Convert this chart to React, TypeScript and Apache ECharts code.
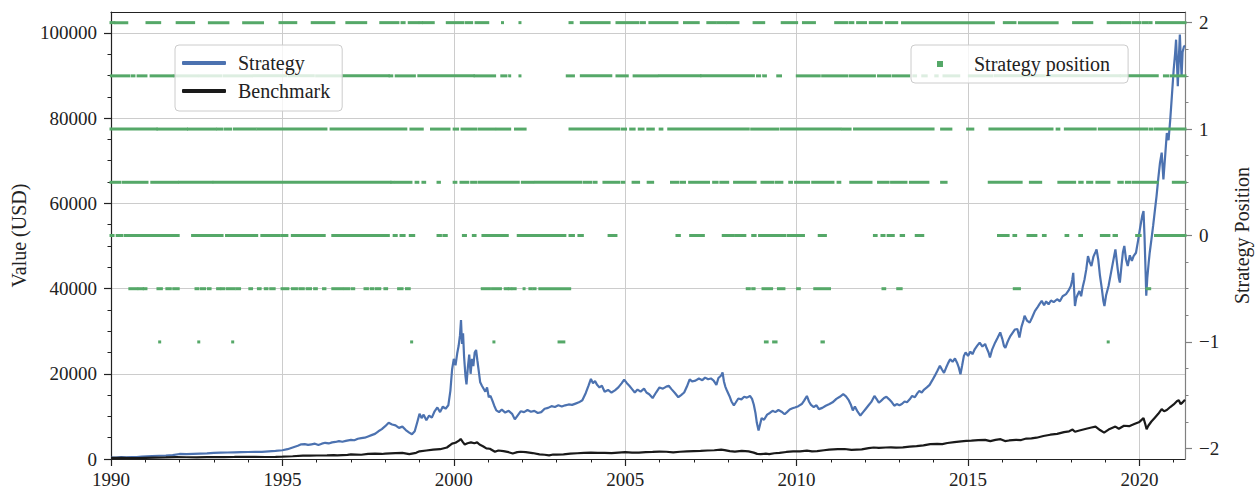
import { useEffect, useRef } from 'react';
import * as echarts from 'echarts';

// Axis extents (decimal years on x, USD on the left, position units on the right)
const X_MIN = 1990;
const X_MAX = 2021.33;
const VALUE_MAX = 104900;
const POS_MIN = -2.1;
const POS_MAX = 2.1;

const yearTicks = [1990, 1995, 2000, 2005, 2010, 2015, 2020];
const yearMinorTicks = [
  1991, 1992, 1993, 1994, 1996, 1997, 1998, 1999, 2001, 2002, 2003, 2004,
  2006, 2007, 2008, 2009, 2011, 2012, 2013, 2014, 2016, 2017, 2018, 2019, 2021,
];
const valueTicks = [0, 20000, 40000, 60000, 80000, 100000];
const valueMinorTicks = [
  5000, 10000, 15000, 25000, 30000, 35000, 45000, 50000, 55000,
  65000, 70000, 75000, 85000, 90000, 95000,
];
const positionTicks = [-2, -1, 0, 1, 2];
const positionMinorTicks = [
  -1.75, -1.5, -1.25, -0.75, -0.5, -0.25, 0.25, 0.5, 0.75, 1.25, 1.5, 1.75,
];

// Portfolio value of the strategy, [year, USD]
const strategyValues: [number, number][] = [
  [1990.0, 300], [1990.15, 340], [1990.3, 420], [1990.45, 380], [1990.6, 450], [1990.75, 430],
  [1990.9, 560], [1991.05, 640], [1991.2, 700], [1991.4, 760], [1991.6, 800], [1991.8, 900],
  [1992.0, 1180], [1992.2, 1150], [1992.4, 1200], [1992.6, 1250], [1992.8, 1300], [1993.0, 1420],
  [1993.2, 1480], [1993.4, 1520], [1993.6, 1560], [1993.8, 1600], [1994.0, 1640], [1994.2, 1680],
  [1994.4, 1650], [1994.6, 1780], [1994.8, 1900], [1995.0, 2050], [1995.15, 2300], [1995.3, 2700],
  [1995.45, 3100], [1995.55, 3450], [1995.65, 3500], [1995.75, 3300], [1995.85, 3450], [1995.95, 3600],
  [1996.05, 3300], [1996.15, 3600], [1996.25, 3800], [1996.35, 3650], [1996.45, 3900], [1996.55, 4000],
  [1996.65, 4200], [1996.75, 4050], [1996.85, 4250], [1997.0, 4500], [1997.1, 4400], [1997.2, 4750],
  [1997.3, 4900], [1997.4, 5000], [1997.5, 5300], [1997.6, 5600], [1997.7, 5900], [1997.8, 6500],
  [1997.9, 7000], [1998.0, 7700], [1998.1, 8500], [1998.2, 8100], [1998.3, 7900], [1998.4, 7300],
  [1998.5, 7600], [1998.6, 6800], [1998.7, 6200], [1998.78, 5800], [1998.86, 6500], [1998.94, 8800],
  [1999.0, 10600], [1999.06, 9600], [1999.12, 10400], [1999.2, 9100], [1999.28, 10200], [1999.36, 9700],
  [1999.44, 11200], [1999.52, 12100], [1999.6, 11000], [1999.68, 12300], [1999.76, 11800], [1999.84, 12600],
  [1999.9, 16000], [1999.95, 21000], [2000.0, 23500], [2000.05, 22000], [2000.1, 24800], [2000.14, 26500],
  [2000.18, 29000], [2000.21, 32600], [2000.24, 27000], [2000.27, 29500], [2000.3, 24000], [2000.34, 19500],
  [2000.37, 17500], [2000.41, 21500], [2000.45, 24500], [2000.49, 20000], [2000.53, 23500], [2000.57, 21800],
  [2000.61, 25000], [2000.65, 25600], [2000.69, 23000], [2000.73, 20500], [2000.77, 18000], [2000.82, 17200],
  [2000.87, 16500], [2000.92, 15800], [2000.97, 16800], [2001.02, 14500], [2001.07, 14800], [2001.12, 13800],
  [2001.18, 12500], [2001.24, 11400], [2001.32, 11000], [2001.4, 11600], [2001.5, 10900], [2001.6, 11300],
  [2001.7, 10600], [2001.78, 9300], [2001.86, 10200], [2001.95, 11200], [2002.05, 11000], [2002.15, 11500],
  [2002.25, 11100], [2002.35, 11300], [2002.45, 10800], [2002.55, 11000], [2002.65, 11800], [2002.75, 12000],
  [2002.85, 12400], [2002.95, 12200], [2003.05, 12600], [2003.15, 12300], [2003.25, 12600], [2003.35, 12800],
  [2003.45, 12700], [2003.55, 13000], [2003.65, 13300], [2003.75, 13800], [2003.85, 15500], [2003.93, 17200],
  [2004.0, 18800], [2004.06, 17800], [2004.12, 18300], [2004.18, 17400], [2004.25, 16800], [2004.32, 17200],
  [2004.4, 15800], [2004.5, 16200], [2004.6, 15600], [2004.7, 16100], [2004.8, 16800], [2004.9, 17800],
  [2004.97, 18600], [2005.05, 17800], [2005.12, 17200], [2005.2, 16400], [2005.28, 15600], [2005.36, 16300],
  [2005.45, 15800], [2005.55, 16500], [2005.62, 15600], [2005.7, 15200], [2005.8, 14300], [2005.9, 15600],
  [2006.0, 16800], [2006.1, 16500], [2006.2, 17000], [2006.27, 17200], [2006.35, 16400], [2006.45, 15500],
  [2006.55, 14500], [2006.63, 15000], [2006.72, 15600], [2006.8, 17000], [2006.88, 18700], [2006.95, 18200],
  [2007.05, 18400], [2007.15, 18900], [2007.25, 18500], [2007.33, 19100], [2007.42, 18700], [2007.5, 18900],
  [2007.58, 18400], [2007.66, 17400], [2007.72, 19000], [2007.8, 19600], [2007.84, 20300], [2007.88, 18200],
  [2007.92, 17000], [2007.97, 16000], [2008.04, 14800], [2008.1, 13500], [2008.17, 12600], [2008.22, 13200],
  [2008.3, 14200], [2008.39, 14000], [2008.47, 14600], [2008.55, 14400], [2008.64, 14800], [2008.7, 14100],
  [2008.75, 12800], [2008.8, 10800], [2008.84, 8500], [2008.89, 6700], [2008.93, 8000], [2008.98, 9600],
  [2009.05, 9200], [2009.14, 10400], [2009.22, 10800], [2009.3, 11300], [2009.38, 11000], [2009.47, 11500],
  [2009.56, 11100], [2009.65, 10500], [2009.72, 11000], [2009.8, 11600], [2009.88, 11900], [2009.95, 12100],
  [2010.05, 12400], [2010.15, 12900], [2010.22, 13700], [2010.3, 14800], [2010.36, 13500], [2010.42, 12700],
  [2010.5, 12200], [2010.58, 12600], [2010.65, 11700], [2010.75, 12000], [2010.85, 12500], [2010.96, 12900],
  [2011.05, 13300], [2011.16, 14100], [2011.26, 14600], [2011.36, 15200], [2011.44, 14700], [2011.52, 13800],
  [2011.58, 12800], [2011.64, 11400], [2011.7, 12300], [2011.78, 11100], [2011.86, 10200], [2011.94, 11000],
  [2012.02, 11800], [2012.1, 12600], [2012.18, 13400], [2012.27, 14800], [2012.34, 14000], [2012.4, 13200],
  [2012.47, 13700], [2012.55, 14300], [2012.62, 14600], [2012.7, 14000], [2012.78, 13300], [2012.85, 12500],
  [2012.92, 12900], [2013.0, 12600], [2013.07, 12900], [2013.15, 13500], [2013.22, 13300], [2013.3, 14000],
  [2013.37, 14800], [2013.45, 14500], [2013.52, 15400], [2013.58, 16000], [2013.65, 15600], [2013.72, 16300],
  [2013.8, 16800], [2013.88, 17400], [2013.96, 18500], [2014.03, 19500], [2014.1, 20600], [2014.18, 21900],
  [2014.24, 21000], [2014.3, 20200], [2014.36, 21400], [2014.42, 22500], [2014.48, 23400], [2014.55, 22800],
  [2014.62, 23600], [2014.68, 22600], [2014.73, 21500], [2014.78, 19900], [2014.83, 22000], [2014.88, 24200],
  [2014.93, 25000], [2015.0, 24200], [2015.07, 25200], [2015.13, 24600], [2015.2, 25800], [2015.27, 26600],
  [2015.34, 27300], [2015.42, 26400], [2015.5, 27000], [2015.54, 26100], [2015.6, 25000], [2015.64, 23800],
  [2015.7, 25600], [2015.79, 27300], [2015.86, 28400], [2015.94, 29700], [2016.0, 28200], [2016.05, 26500],
  [2016.09, 26100], [2016.15, 27400], [2016.2, 28300], [2016.24, 28900], [2016.3, 29600], [2016.37, 30400],
  [2016.44, 30500], [2016.5, 28500], [2016.56, 31000], [2016.62, 32600], [2016.65, 33600], [2016.72, 32500],
  [2016.8, 32000], [2016.87, 33200], [2016.95, 34700], [2017.02, 35500], [2017.08, 36300], [2017.15, 37100],
  [2017.22, 36100], [2017.28, 37000], [2017.35, 36300], [2017.42, 37200], [2017.5, 36800], [2017.6, 37500],
  [2017.68, 37000], [2017.76, 38200], [2017.86, 38700], [2017.93, 39500], [2018.0, 40600], [2018.04, 42000],
  [2018.07, 43700], [2018.1, 39000], [2018.12, 35900], [2018.16, 37800], [2018.2, 38600], [2018.25, 39400],
  [2018.3, 38200], [2018.35, 40500], [2018.4, 42200], [2018.45, 44500], [2018.5, 47600], [2018.55, 46200],
  [2018.6, 45300], [2018.66, 47500], [2018.72, 48600], [2018.75, 49200], [2018.8, 46800], [2018.85, 43000],
  [2018.9, 40200], [2018.95, 37000], [2018.98, 35900], [2019.03, 38500], [2019.1, 40600], [2019.16, 43200],
  [2019.22, 45800], [2019.3, 49200], [2019.36, 45000], [2019.4, 42500], [2019.43, 41400], [2019.48, 45600],
  [2019.52, 48600], [2019.56, 50000], [2019.61, 46800], [2019.66, 45300], [2019.72, 47800], [2019.78, 46500],
  [2019.83, 47600], [2019.9, 48400], [2019.96, 51200], [2020.02, 54200], [2020.08, 57000], [2020.12, 58200],
  [2020.15, 52000], [2020.18, 44000], [2020.2, 38300], [2020.23, 42500], [2020.27, 46000], [2020.3, 48400],
  [2020.35, 51500], [2020.4, 54700], [2020.45, 58200], [2020.5, 61700], [2020.55, 65800], [2020.6, 69500],
  [2020.65, 71900], [2020.7, 65600], [2020.75, 71000], [2020.8, 76500], [2020.85, 74800], [2020.9, 79700],
  [2020.95, 85500], [2021.0, 91400], [2021.04, 95000], [2021.07, 98400], [2021.1, 92000], [2021.12, 87500],
  [2021.15, 94000], [2021.18, 99600], [2021.21, 93500], [2021.23, 89800], [2021.26, 95500], [2021.3, 96800],
  [2021.33, 97000],
];

// Benchmark index value, [year, USD]
const benchmarkValues: [number, number][] = [
  [1990.0, 250], [1990.3, 270], [1990.6, 240], [1990.8, 230], [1991.0, 280], [1991.3, 340],
  [1991.6, 360], [1991.9, 420], [1992.2, 410], [1992.5, 400], [1992.8, 440], [1993.0, 460],
  [1993.3, 450], [1993.6, 480], [1993.9, 520], [1994.2, 500], [1994.5, 470], [1994.8, 520],
  [1995.0, 560], [1995.3, 650], [1995.6, 800], [1995.8, 780], [1996.0, 820], [1996.3, 850],
  [1996.5, 900], [1996.6, 840], [1996.9, 980], [1997.0, 1100], [1997.3, 1000], [1997.5, 1200],
  [1997.7, 1250], [1997.9, 1180], [1998.0, 1250], [1998.3, 1400], [1998.5, 1450], [1998.7, 1150],
  [1998.9, 1450], [1999.0, 1800], [1999.2, 2000], [1999.4, 2200], [1999.6, 2300], [1999.8, 2700],
  [1999.95, 3600], [2000.05, 3800], [2000.15, 4300], [2000.2, 4700], [2000.27, 3900], [2000.32, 3400],
  [2000.4, 3700], [2000.5, 3900], [2000.6, 3700], [2000.68, 3900], [2000.75, 3400], [2000.85, 3000],
  [2000.95, 2500], [2001.05, 2400], [2001.2, 1700], [2001.3, 2000], [2001.45, 1850], [2001.6, 1600],
  [2001.72, 1300], [2001.85, 1600], [2001.95, 1700], [2002.1, 1600], [2002.3, 1400], [2002.5, 1100],
  [2002.65, 1000], [2002.78, 850], [2002.9, 1050], [2003.0, 1050], [2003.2, 1100], [2003.4, 1250],
  [2003.6, 1350], [2003.8, 1450], [2004.0, 1500], [2004.2, 1450], [2004.4, 1450], [2004.6, 1370],
  [2004.8, 1500], [2005.0, 1600], [2005.2, 1500], [2005.4, 1500], [2005.6, 1600], [2005.8, 1650],
  [2006.0, 1750], [2006.2, 1700], [2006.4, 1550], [2006.6, 1700], [2006.8, 1800], [2007.0, 1850],
  [2007.2, 1900], [2007.4, 2000], [2007.6, 2050], [2007.8, 2200], [2007.9, 2100], [2008.05, 1850],
  [2008.2, 1750], [2008.4, 1900], [2008.6, 1800], [2008.75, 1500], [2008.85, 1200], [2008.95, 1150],
  [2009.1, 1250], [2009.2, 1150], [2009.35, 1350], [2009.5, 1450], [2009.7, 1650], [2009.9, 1800],
  [2010.1, 1800], [2010.3, 1950], [2010.45, 1800], [2010.6, 1850], [2010.8, 2050], [2010.95, 2200],
  [2011.2, 2300], [2011.4, 2350], [2011.6, 2150], [2011.75, 2200], [2011.9, 2250], [2012.1, 2550],
  [2012.25, 2700], [2012.4, 2600], [2012.6, 2700], [2012.75, 2750], [2012.9, 2650], [2013.1, 2750],
  [2013.3, 2900], [2013.5, 3000], [2013.7, 3200], [2013.9, 3500], [2014.1, 3550], [2014.25, 3500],
  [2014.4, 3750], [2014.6, 3950], [2014.8, 4150], [2014.95, 4250], [2015.1, 4300], [2015.3, 4450],
  [2015.5, 4500], [2015.65, 4200], [2015.8, 4500], [2015.95, 4650], [2016.08, 4200], [2016.2, 4350],
  [2016.4, 4500], [2016.55, 4450], [2016.7, 4800], [2016.85, 4850], [2017.0, 5000], [2017.2, 5400],
  [2017.4, 5700], [2017.6, 5900], [2017.8, 6300], [2017.95, 6500], [2018.05, 6900], [2018.12, 6400],
  [2018.25, 6700], [2018.45, 7100], [2018.6, 7400], [2018.72, 7600], [2018.85, 6800], [2018.97, 6200],
  [2019.1, 6900], [2019.3, 7600], [2019.4, 7100], [2019.55, 7800], [2019.7, 7700], [2019.85, 8200],
  [2020.0, 8700], [2020.12, 9600], [2020.17, 8200], [2020.21, 7000], [2020.26, 7800], [2020.35, 8800],
  [2020.45, 9700], [2020.55, 10600], [2020.65, 11700], [2020.72, 11200], [2020.8, 11500], [2020.9, 12200],
  [2021.0, 12800], [2021.1, 13600], [2021.15, 13800], [2021.2, 12900], [2021.25, 13200], [2021.33, 13900],
];

// Periods (start year, end year) during which the strategy held each position level
const runsAt2: [number, number][] = [
  [1990.0, 1990.08], [1990.14, 1990.46], [1991.05, 1991.42], [1991.93, 1992.41], [1992.87, 1993.41],
  [1993.87, 1994.42], [1994.93, 1995.39], [1995.87, 1996.5], [1996.88, 1997.43], [1997.87, 1998.37],
  [1998.49, 1998.55], [1998.7, 1998.95], [1999.02, 1999.06], [1999.12, 1999.4], [1999.81, 2000.26],
  [2000.36, 2000.52], [2000.65, 2000.99], [2001.42, 2001.42], [2001.93, 2001.93], [2003.39, 2003.45],
  [2003.72, 2004.53], [2004.76, 2005.36], [2005.46, 2005.56], [2005.72, 2006.51], [2006.73, 2007.13],
  [2007.41, 2007.63], [2007.71, 2007.92], [2007.99, 2008.29], [2008.76, 2009.04], [2009.58, 2010.0],
  [2010.2, 2010.52], [2011.14, 2011.46], [2011.56, 2011.64], [2011.78, 2012.01], [2012.15, 2012.47],
  [2012.62, 2012.92], [2013.09, 2015.74], [2016.06, 2016.37], [2016.5, 2017.6], [2018.08, 2018.61],
  [2019.09, 2019.42], [2019.5, 2019.72], [2019.82, 2020.02], [2020.12, 2020.22], [2020.3, 2020.34],
  [2020.5, 2021.33],
];
const runsAt1p5: [number, number][] = [
  [1990.01, 1990.52], [1990.62, 1990.67], [1990.79, 1991.02], [1991.17, 1991.78], [1991.85, 1992.5],
  [1992.58, 1993.2], [1993.3, 1994.1], [1994.18, 1995.1], [1995.2, 1995.9], [1996.0, 1996.71],
  [1996.78, 1998.09], [1998.14, 1998.19], [1998.32, 1998.85], [1998.98, 2000.57], [2000.62, 2001.19],
  [2001.4, 2001.52], [2001.63, 2001.63], [2001.93, 2001.93], [2003.31, 2003.49], [2003.72, 2004.58],
  [2004.76, 2005.06], [2005.26, 2005.92], [2006.0, 2007.18], [2007.23, 2008.74], [2008.86, 2008.92],
  [2009.04, 2009.09], [2009.45, 2009.53], [2010.02, 2010.66], [2010.76, 2011.46], [2011.56, 2012.27],
  [2012.39, 2012.72], [2012.82, 2013.27], [2013.42, 2013.47], [2013.68, 2013.78], [2014.06, 2014.1],
  [2014.3, 2014.73], [2015.04, 2015.69], [2015.79, 2017.2], [2017.3, 2019.42], [2019.47, 2020.52],
  [2020.73, 2020.83], [2020.93, 2021.33],
];
const runsAt1: [number, number][] = [
  [1990.0, 1991.32], [1991.37, 1992.2], [1992.26, 1993.04], [1993.11, 1993.24], [1993.34, 1993.49],
  [1993.6, 1994.2], [1994.28, 1996.27], [1996.42, 1998.6], [1998.75, 1999.08], [1999.35, 1999.86],
  [2000.01, 2000.11], [2000.24, 2000.65], [2000.75, 2001.19], [2001.27, 2001.63], [2001.8, 2002.08],
  [2003.39, 2004.81], [2004.91, 2005.01], [2005.16, 2005.26], [2005.41, 2005.52], [2005.66, 2005.82],
  [2006.02, 2006.07], [2006.27, 2008.59], [2008.69, 2009.45], [2009.55, 2011.26], [2011.34, 2011.56],
  [2011.69, 2013.98], [2014.23, 2014.5], [2014.99, 2015.14], [2015.64, 2017.45], [2017.6, 2017.65],
  [2017.84, 2018.71], [2018.83, 2020.22], [2020.32, 2020.37], [2020.47, 2021.33],
];
const runsAt0p5: [number, number][] = [
  [1990.0, 1990.26], [1990.36, 1991.05], [1991.19, 1991.93], [1992.0, 1992.94], [1993.01, 1998.14],
  [1998.19, 1998.24], [1998.32, 1998.75], [1998.9, 1998.95], [1999.1, 1999.15], [1999.54, 1999.58],
  [2000.01, 2000.06], [2000.21, 2000.41], [2000.52, 2000.65], [2000.75, 2001.88], [2002.0, 2002.3],
  [2002.38, 2003.7], [2003.8, 2004.0], [2004.1, 2004.15], [2004.38, 2004.81], [2004.91, 2004.96],
  [2005.23, 2005.39], [2005.67, 2005.8], [2006.35, 2006.53], [2006.63, 2006.73], [2006.88, 2007.43],
  [2007.58, 2007.68], [2007.79, 2007.99], [2008.19, 2008.79], [2008.99, 2009.3], [2009.4, 2009.57],
  [2009.8, 2009.85], [2009.97, 2010.35], [2010.47, 2011.06], [2011.21, 2011.26], [2011.58, 2012.17],
  [2012.39, 2012.67], [2012.77, 2013.19], [2013.32, 2013.83], [2014.23, 2014.36], [2015.62, 2016.55],
  [2016.82, 2017.12], [2017.65, 2018.11], [2018.26, 2018.33], [2018.49, 2018.61], [2018.76, 2019.11],
  [2019.4, 2019.5], [2019.62, 2019.72], [2019.82, 2020.52], [2020.99, 2021.33],
];
const runsAt0: [number, number][] = [
  [1990.0, 1990.06], [1990.18, 1990.31], [1990.41, 1991.96], [1992.38, 1993.24], [1993.37, 1994.25],
  [1994.4, 1994.91], [1994.99, 1995.13], [1995.29, 1996.22], [1996.47, 1998.09], [1998.26, 1998.32],
  [1998.46, 1998.55], [1998.73, 1998.83], [1999.54, 1999.61], [1999.71, 1999.78], [2000.28, 2000.34],
  [2000.57, 2000.62], [2000.85, 2001.56], [2001.88, 2003.24], [2003.39, 2003.49], [2003.65, 2003.75],
  [2004.53, 2004.73], [2006.51, 2006.58], [2006.91, 2007.28], [2007.86, 2008.14], [2008.22, 2008.49],
  [2008.72, 2008.79], [2008.92, 2009.65], [2009.75, 2010.2], [2010.66, 2010.84], [2012.27, 2012.32],
  [2012.49, 2012.55], [2012.67, 2012.82], [2013.05, 2013.12], [2013.49, 2013.68], [2015.89, 2016.17],
  [2016.34, 2016.39], [2016.75, 2016.98], [2017.2, 2017.25], [2017.86, 2017.91], [2018.26, 2018.31],
  [2018.89, 2019.11], [2019.26, 2019.33], [2019.92, 2020.02], [2020.47, 2021.33],
];
const runsAtMinus0p5: [number, number][] = [
  [1990.55, 1990.75], [1990.82, 1990.92], [1990.97, 1991.02], [1991.37, 1991.47], [1991.63, 1991.73],
  [1991.83, 1991.96], [1992.48, 1992.53], [1992.63, 1992.73], [1992.84, 1992.89], [1993.11, 1993.17],
  [1993.24, 1993.29], [1993.39, 1993.59], [1993.67, 1993.75], [1994.05, 1994.1], [1994.3, 1994.35],
  [1994.5, 1994.55], [1994.66, 1994.76], [1994.99, 1995.16], [1995.29, 1995.41], [1995.51, 1995.61],
  [1995.72, 1995.82], [1995.94, 1995.99], [1996.2, 1996.24], [1996.47, 1996.73], [1996.81, 1996.93],
  [1997.03, 1997.08], [1997.41, 1997.48], [1997.59, 1997.64], [1997.74, 1997.84], [1997.99, 1998.04],
  [1998.39, 1998.49], [1998.62, 1998.7], [2000.83, 2001.04], [2001.13, 2001.36], [2001.5, 2001.56],
  [2001.62, 2001.66], [2001.73, 2001.79], [2002.05, 2002.05], [2002.22, 2002.25], [2002.33, 2002.37],
  [2002.51, 2003.38], [2008.56, 2008.62], [2008.72, 2008.76], [2009.02, 2009.27], [2009.47, 2009.63],
  [2010.03, 2010.08], [2010.53, 2010.96], [2012.52, 2012.57], [2012.95, 2013.05], [2016.35, 2016.5],
  [2020.22, 2020.3],
];
const runsAtMinus1: [number, number][] = [
  [1991.42, 1991.42], [1992.56, 1992.56], [1993.55, 1993.55], [1998.77, 1998.77], [2001.17, 2001.17],
  [2003.07, 2003.21], [2009.09, 2009.14], [2009.33, 2009.4], [2010.74, 2010.78], [2019.09, 2019.09],
];

const positionLevels: [number, [number, number][]][] = [
  [2, runsAt2],
  [1.5, runsAt1p5],
  [1, runsAt1],
  [0.5, runsAt0p5],
  [0, runsAt0],
  [-0.5, runsAtMinus0p5],
  [-1, runsAtMinus1],
];

const FONT = "'Liberation Serif', 'DejaVu Serif', serif";
const INK = '#222222';
const SPINE_RIGHT = '#808080';
const GRID_LINE = '#cccccc';
const BLUE = '#4c72b0';
const BLACK = '#1a1a1a';
const GREEN = '#55a868';

const yearLabel = (v: number) => String(Math.round(v));
const valueLabel = (v: number) => String(Math.round(v));
const positionLabel = (v: number) => (v < 0 ? '\u2212' + Math.abs(v) : String(v));

function buildOption() {
  const positionData: number[][] = [];
  positionLevels.forEach(([level, runs]) => {
    runs.forEach(([s, e]) => positionData.push([s, e, level]));
  });

  const tickFont = { fontFamily: FONT, fontSize: 19, color: INK };
  const legendBox = {
    backgroundColor: 'rgba(255,255,255,0.8)',
    borderColor: '#cccccc',
    borderWidth: 1,
    borderRadius: 4,
    selectedMode: false,
  };
  const noLine = { show: false, onZero: false };

  return {
    animation: false,
    backgroundColor: '#ffffff',
    grid: { left: 111, right: 68, top: 12, bottom: 29, containLabel: false },
    xAxis: [
      {
        type: 'value',
        min: X_MIN,
        max: X_MAX,
        position: 'bottom',
        axisLine: { show: true, onZero: false, lineStyle: { color: INK, width: 1.2 } },
        axisTick: { show: true, length: 7, customValues: yearTicks, lineStyle: { color: INK, width: 1.2 } },
        axisLabel: { ...tickFont, customValues: yearTicks, formatter: yearLabel, margin: 11 },
        splitLine: { show: true, lineStyle: { color: GRID_LINE, width: 1 } },
      },
      {
        type: 'value',
        min: X_MIN,
        max: X_MAX,
        position: 'bottom',
        axisLine: noLine,
        axisTick: { show: true, length: 3.5, customValues: yearMinorTicks, lineStyle: { color: INK, width: 1 } },
        axisLabel: { show: false },
        splitLine: { show: false },
      },
      {
        type: 'value',
        min: X_MIN,
        max: X_MAX,
        position: 'top',
        axisLine: { show: true, onZero: false, lineStyle: { color: INK, width: 1.2 } },
        axisTick: { show: false },
        axisLabel: { show: false },
        splitLine: { show: false },
      },
    ],
    yAxis: [
      {
        type: 'value',
        min: 0,
        max: VALUE_MAX,
        position: 'left',
        name: 'Value (USD)',
        nameLocation: 'middle',
        nameGap: 78,
        nameRotate: 90,
        nameTextStyle: { fontFamily: FONT, fontSize: 20, color: INK },
        axisLine: { show: true, onZero: false, lineStyle: { color: INK, width: 1.2 } },
        axisTick: { show: true, length: 7, customValues: valueTicks, lineStyle: { color: INK, width: 1.2 } },
        axisLabel: { ...tickFont, customValues: valueTicks, formatter: valueLabel, margin: 14 },
        splitLine: { show: true, lineStyle: { color: GRID_LINE, width: 1 } },
      },
      {
        type: 'value',
        min: POS_MIN,
        max: POS_MAX,
        position: 'right',
        name: 'Strategy Position',
        nameLocation: 'middle',
        nameGap: 47,
        nameRotate: 90,
        nameTextStyle: { fontFamily: FONT, fontSize: 20, color: INK },
        axisLine: { show: true, onZero: false, lineStyle: { color: SPINE_RIGHT, width: 1.2 } },
        axisTick: { show: true, length: 7, customValues: positionTicks, lineStyle: { color: SPINE_RIGHT, width: 1.2 } },
        axisLabel: { ...tickFont, customValues: positionTicks, formatter: positionLabel, margin: 14 },
        splitLine: { show: false },
      },
      {
        type: 'value',
        min: 0,
        max: VALUE_MAX,
        position: 'left',
        axisLine: noLine,
        axisTick: { show: true, length: 3.5, customValues: valueMinorTicks, lineStyle: { color: INK, width: 1 } },
        axisLabel: { show: false },
        splitLine: { show: false },
      },
      {
        type: 'value',
        min: POS_MIN,
        max: POS_MAX,
        position: 'right',
        axisLine: noLine,
        axisTick: { show: true, length: 3.5, customValues: positionMinorTicks, lineStyle: { color: SPINE_RIGHT, width: 1 } },
        axisLabel: { show: false },
        splitLine: { show: false },
      },
    ],
    legend: [
      {
        ...legendBox,
        data: [
          { name: 'Strategy', icon: 'roundRect' },
          { name: 'Benchmark', icon: 'roundRect' },
        ],
        orient: 'vertical',
        left: 175,
        top: 45,
        itemWidth: 44,
        itemHeight: 4,
        itemGap: 8,
        padding: [8, 12, 10, 7],
        textStyle: { fontFamily: FONT, fontSize: 20, color: INK, padding: [0, 0, 0, 7] },
      },
      {
        ...legendBox,
        data: [{ name: 'Strategy position', icon: 'rect' }],
        orient: 'vertical',
        left: 911,
        top: 45,
        itemWidth: 6,
        itemHeight: 6,
        padding: [9, 18, 9, 26],
        textStyle: { fontFamily: FONT, fontSize: 20, color: INK, padding: [0, 0, 0, 26] },
      },
    ],
    series: [
      {
        name: 'Strategy',
        type: 'line',
        xAxisIndex: 0,
        yAxisIndex: 0,
        data: strategyValues,
        symbol: 'none',
        showSymbol: false,
        lineStyle: { color: BLUE, width: 2.2 },
        itemStyle: { color: BLUE },
        z: 2,
      },
      {
        name: 'Benchmark',
        type: 'line',
        xAxisIndex: 0,
        yAxisIndex: 0,
        data: benchmarkValues,
        symbol: 'none',
        showSymbol: false,
        lineStyle: { color: BLACK, width: 2.2 },
        itemStyle: { color: BLACK },
        z: 2,
      },
      {
        name: 'Strategy position',
        type: 'custom',
        xAxisIndex: 0,
        yAxisIndex: 1,
        data: positionData,
        encode: { x: [0, 1], y: 2 },
        itemStyle: { color: GREEN },
        z: 3,
        renderItem: (_params: any, api: any) => {
          const a = api.coord([api.value(0), api.value(2)]);
          const b = api.coord([api.value(1), api.value(2)]);
          return {
            type: 'rect',
            shape: { x: a[0] - 1.5, y: a[1] - 1.5, width: Math.max(b[0] - a[0], 0) + 3, height: 3 },
            style: { fill: GREEN },
          };
        },
      },
    ],
  };
}

export default function App() {
  const ref = useRef<HTMLDivElement | null>(null);

  useEffect(() => {
    if (!ref.current) return;
    const chart = echarts.init(ref.current, null, { renderer: 'svg' });
    chart.setOption(buildOption() as any);
    return () => chart.dispose();
  }, []);

  return (
    <div
      ref={ref}
      style={{ position: 'fixed', left: 0, top: 0, width: 1260, height: 489, background: '#ffffff' }}
    />
  );
}
